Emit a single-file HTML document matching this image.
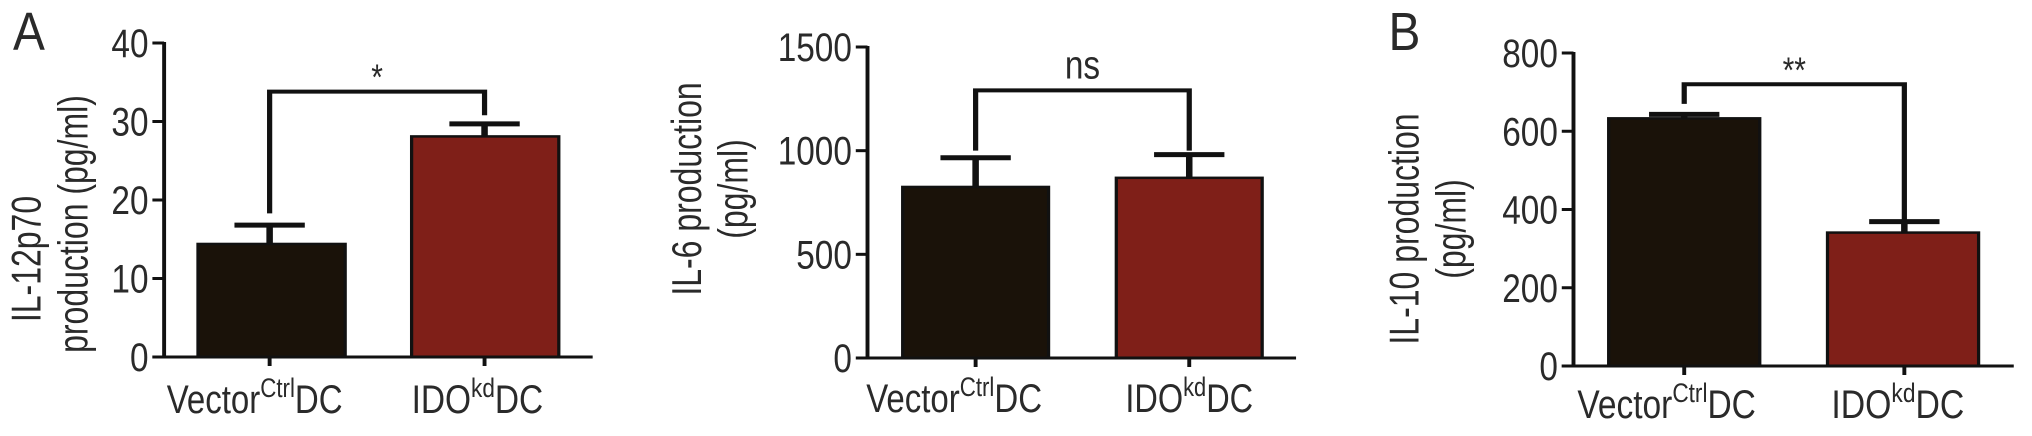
<!DOCTYPE html>
<html><head><meta charset="utf-8"><style>
html,body{margin:0;padding:0;background:#fff;}
svg{display:block;}
text{font-family:"Liberation Sans",Arial,sans-serif;fill:#2a2a2a;}
</style></head><body>
<svg id="fig" width="2032" height="436" viewBox="0 0 1560 436" preserveAspectRatio="none" xmlns="http://www.w3.org/2000/svg">
<text transform="translate(10,50) scale(0.68,1)" font-size="54">A</text>
<text transform="translate(1066,50) scale(0.68,1)" font-size="54">B</text>
</svg>
<script>
const categories = ["Vector", "IDO"];
const il12Values = [14.4, 28.1];
const il12Errors = [16.8, 29.7];
const il12Ticks = [0, 10, 20, 30, 40];
const il12Legs = [18.3, 30.8];
const il6Values = [825, 869];
const il6Errors = [966, 981];
const il6Ticks = [0, 500, 1000, 1500];
const il6Legs = [1000, 1000];
const il10Values = [633, 341];
const il10Errors = [643, 369];
const il10Ticks = [0, 200, 400, 600, 800];
const il10Legs = [670, 369];
const sigLabels = ["*", "ns", "**"];
const bracketLevels = [33.8, 1291, 720];

const NS = "http://www.w3.org/2000/svg";
const svg = document.getElementById('fig');
const SX = 0.64;
function mk(tag, attrs, parent) {
  const e = document.createElementNS(NS, tag);
  for (const k in attrs) e.setAttribute(k, attrs[k]);
  (parent || svg).appendChild(e);
  return e;
}
const colors = ["#1a1209", "#7f1f18"];

function panel(p) {
  const g = mk('g', {});
  
  
  const max = p.ticks[p.ticks.length - 1];
  const y = v => p.y0 - (p.y0 - p.yTop) * v / max;
  const lw = 3;
  const ya = mk('line', {x1: p.ax, x2: p.ax, y1: p.yTop - 1, y2: p.y0, stroke: '#111', 'stroke-width': lw}, g);
  
  
  p.ticks.forEach(t => {
    const ty = y(t);
    mk('line', {x1: p.ax - 9, x2: p.ax, y1: ty, y2: ty, stroke: '#111', 'stroke-width': lw}, g);
    const tl = mk('text', {x: 0, y: 0, 'font-size': 40, 'text-anchor': 'end', transform: `translate(${p.ax - 12},${ty + 14}) scale(${SX},1)`}, g);
    
    
    tl.textContent = t;
  });
  p.values.forEach((v, i) => {
    const bx = p.barX[i];
    const r = mk('rect', {x: bx, y: y(v), width: p.barW, height: p.y0 - y(v), fill: colors[i], stroke: '#111', 'stroke-width': 2.5}, g);
    
    
    const cx = p.tickX[i];
    const e = mk('path', {d: `M${cx},${y(v)}V${y(p.errors[i])}M${cx - 27},${y(p.errors[i])}H${cx + 27}`, stroke: '#111', 'stroke-width': 5, fill: 'none'}, g);
    
    
  });
  const xa = mk('line', {x1: p.xStart, x2: p.xEnd, y1: p.y0, y2: p.y0, stroke: '#111', 'stroke-width': lw}, g);
  
  
  p.tickX.forEach(tx => {
    mk('line', {x1: tx, x2: tx, y1: p.y0, y2: p.y0 + 9, stroke: '#111', 'stroke-width': lw}, g);
  });
  const l1 = mk('text', {x: 0, y: 0, 'font-size': 40, textLength: (p.lab1[1] - p.lab1[0]) / SX, lengthAdjust: 'spacingAndGlyphs', transform: `translate(${p.lab1[0]},${p.labY}) scale(${SX},1)`}, g);
  
  
  l1.innerHTML = 'Vector<tspan font-size="27" dy="-16">Ctrl</tspan><tspan dy="16">DC</tspan>';
  const l2 = mk('text', {x: 0, y: 0, 'font-size': 40, textLength: (p.lab2[1] - p.lab2[0]) / SX, lengthAdjust: 'spacingAndGlyphs', transform: `translate(${p.lab2[0]},${p.labY}) scale(${SX},1)`}, g);
  
  
  l2.innerHTML = 'IDO<tspan font-size="27" dy="-16">kd</tspan><tspan dy="16">DC</tspan>';
  const by = y(p.bracket);
  const b = mk('path', {d: `M${p.tickX[0]},${y(p.legs[0])}V${by}H${p.tickX[1]}V${y(p.legs[1])}`, stroke: '#111', 'stroke-width': 4, fill: 'none'}, g);
  
  
  const isNs = p.sig === 'ns';
  const s = mk('text', {x: 0, y: 0, 'font-size': isNs ? 40 : 36, 'text-anchor': 'middle', transform: `translate(${(p.tickX[0] + p.tickX[1]) / 2},${by + (isNs ? -12 : -2)}) scale(${SX},1)`}, g);
  
  
  s.textContent = p.sig;
  p.titles.forEach(tt => {
    const t = mk('text', {x: 0, y: 0, 'font-size': 32, 'text-anchor': 'middle', transform: `translate(${tt[1]},${tt[2]}) rotate(-90)`}, g);
    
    
    t.textContent = tt[0];
  });
}

panel({name: 'il12p70-chart', values: il12Values, errors: il12Errors, ticks: il12Ticks, legs: il12Legs, bracket: bracketLevels[0], sig: sigLabels[0],
  ax: 126, y0: 357, yTop: 43, xStart: 117, xEnd: 455, barX: [152, 316], barW: 113, tickX: [207, 372],
  lab1: [128, 263], lab2: [316, 417], labY: 413, titles: [["IL-12p70", 31, 259], ["production (pg/ml)", 67, 224]]});
panel({name: 'il6-chart', values: il6Values, errors: il6Errors, ticks: il6Ticks, legs: il6Legs, bracket: bracketLevels[1], sig: sigLabels[1],
  ax: 666, y0: 358, yTop: 47, xStart: 658, xEnd: 995, barX: [693, 857], barW: 112, tickX: [749, 913],
  lab1: [665, 800], lab2: [864, 962], labY: 412, titles: [["IL-6 production", 538, 189], ["(pg/ml)", 574, 189]]});
panel({name: 'il10-chart', values: il10Values, errors: il10Errors, ticks: il10Ticks, legs: il10Legs, bracket: bracketLevels[2], sig: sigLabels[2],
  ax: 1208, y0: 366, yTop: 53, xStart: 1199, xEnd: 1546, barX: [1235, 1403], barW: 116, tickX: [1293, 1462],
  lab1: [1211, 1348], lab2: [1406, 1508], labY: 418, titles: [["IL-10 production", 1089, 229], ["(pg/ml)", 1125, 229]]});
</script>
</body></html>
